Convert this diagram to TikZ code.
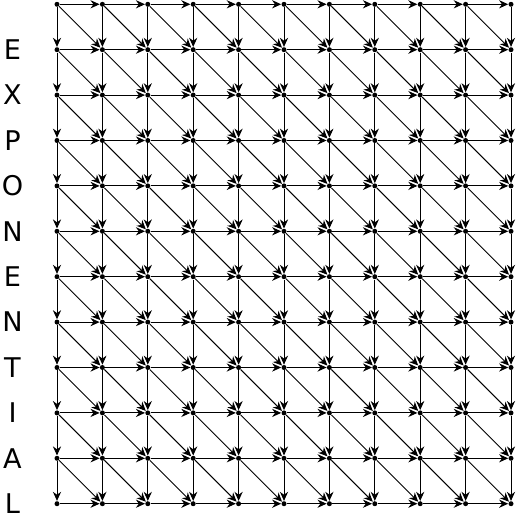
\documentclass[tikz,border=0pt]{standalone}
\usepackage{fontspec}
\setmainfont{DejaVu Sans}
\usetikzlibrary{arrows.meta}

\begin{document}
\begin{tikzpicture}[>={Stealth[length=2mm,width=1.8mm]},
  dot/.style={circle,fill=black,inner sep=0pt,minimum size=1.1mm},
  edge/.style={->,line width=0.6pt},
  letter/.style={font=\fontsize{17}{20}\selectfont,inner sep=0pt}]
\useasboundingbox (-1.2555,0.0947) rectangle (10.110,-11.227);
% grid points
\foreach \i in {0,...,10} { \foreach \j in {0,...,11} { \node[dot] (n-\i-\j) at (\i,-\j) {}; } }
% side word
\foreach \l [count=\j] in {E,X,P,O,N,E,N,T,I,A,L} { \node[letter] (l-\j) at (-0.98,-\j) {\l}; }
% right, down and diagonal steps
\foreach \i [evaluate=\i as \k using int(\i+1)] in {0,...,9} {
  \foreach \j in {0,...,11} { \draw[edge] (n-\i-\j) -- (n-\k-\j); } }
\foreach \j [evaluate=\j as \m using int(\j+1)] in {0,...,10} {
  \foreach \i in {0,...,10} { \draw[edge] (n-\i-\j) -- (n-\i-\m); } }
\foreach \i [evaluate=\i as \k using int(\i+1)] in {0,...,9} {
  \foreach \j [evaluate=\j as \m using int(\j+1)] in {0,...,10} { \draw[edge] (n-\i-\j) -- (n-\k-\m); } }
\end{tikzpicture}
\end{document}
